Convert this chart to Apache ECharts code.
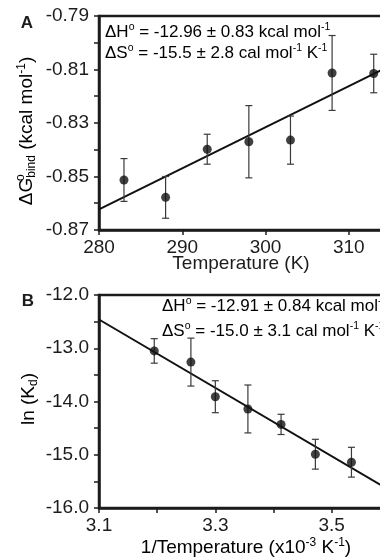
<!DOCTYPE html>
<html>
<head>
<meta charset="utf-8">
<script src="https://cdn.jsdelivr.net/npm/echarts@6/dist/echarts.min.js"></script>
<style>
html,body{margin:0;padding:0;background:#fff;overflow:hidden;width:380px;height:558px;}
#c{width:480px;height:558px;}
</style>
</head>
<body>
<div id="c"></div>
<script>
// Panel A: ΔG vs temperature
const tempA = [283, 288, 293, 298, 303, 308, 313];
const dgA   = [-0.8513, -0.8578, -0.8398, -0.8370, -0.8364, -0.8113, -0.8115];
const errA  = [0.0080, 0.0078, 0.0056, 0.0135, 0.0090, 0.0140, 0.0072];
const fitAx = [280, 320];
const fitAy = [-0.8623, -0.8009];
// Panel B: ln(Kd) vs 1/T
const invTB  = [3.195, 3.258, 3.300, 3.356, 3.413, 3.472, 3.534];
const lnKdB  = [-13.05, -13.26, -13.91, -14.14, -14.43, -14.99, -15.14];
const errB   = [0.23, 0.45, 0.30, 0.45, 0.19, 0.28, 0.28];
const fitBx  = [3.1, 3.7];
const fitBy  = [-12.46, -16.31];
// Tick ranges
const yTicksA = [-0.87, -0.79];
const xTicksA = [280, 320];
const yTicksB = [-16, -12];
const xTicksB = [3.1, 3.7];

const FONT = '"Liberation Sans", Arial, Helvetica, sans-serif';
const INK = '#1c1c1c';

function zip3(a,b,c){return a.map((v,i)=>[v,b[i],c[i]]);}
function zip2(a,b){return a.map((v,i)=>[v,b[i]]);}

function errItem(params, api){
  const x = api.value(0), y = api.value(1), e = api.value(2);
  const t = api.coord([x, y+e]), b = api.coord([x, y-e]);
  const hw = 3.5;
  const st = {stroke:'#3a3a3a', lineWidth:1.2};
  return {type:'group', children:[
    {type:'line', shape:{x1:t[0],y1:t[1],x2:b[0],y2:b[1]}, style:st},
    {type:'line', shape:{x1:t[0]-hw,y1:t[1],x2:t[0]+hw,y2:t[1]}, style:st},
    {type:'line', shape:{x1:b[0]-hw,y1:b[1],x2:b[0]+hw,y2:b[1]}, style:st}
  ]};
}

const axisCommon = {
  axisLine:{show:true, onZero:false, lineStyle:{color:INK, width:2.5}},
  axisTick:{show:true, inside:false, length:5, lineStyle:{color:INK, width:1.5}},
  splitLine:{show:false},
  axisLabel:{color:INK, fontSize:19, fontFamily:FONT, margin:8}
};

const richAnn = {
  n:{fontSize:17, fontFamily:FONT, color:INK, lineHeight:21},
  s:{fontSize:10.5, fontFamily:FONT, color:INK, lineHeight:21, verticalAlign:'top', padding:[0,0,7,0]}
};

const option = {
  animation:false,
  backgroundColor:'#fff',
  grid:[
    {left:99, top:16, width:333, height:214, show:true, borderColor:INK, borderWidth:2.5, backgroundColor:'transparent'},
    {left:99, top:295, width:349, height:213, show:true, borderColor:INK, borderWidth:2.5, backgroundColor:'transparent'}
  ],
  xAxis:[
    Object.assign({}, axisCommon, {type:'value', gridIndex:0, min:xTicksA[0], max:xTicksA[1], interval:10,
      axisLabel:Object.assign({}, axisCommon.axisLabel, {formatter:v=> (v<315? String(v):'')})}),
    Object.assign({}, axisCommon, {type:'value', gridIndex:1, min:xTicksB[0], max:xTicksB[1], interval:0.1,
      axisLabel:Object.assign({}, axisCommon.axisLabel, {formatter:v=>{const k=Math.round(v*10); return (k%2===1 && k<36)? (k/10).toFixed(1):'';}})})
  ],
  yAxis:[
    Object.assign({}, axisCommon, {type:'value', gridIndex:0, min:yTicksA[0], max:yTicksA[1], interval:0.01,
      axisLabel:Object.assign({}, axisCommon.axisLabel, {margin:10, formatter:v=>{const k=Math.round(v*100); return (Math.abs(k)%2===1)? v.toFixed(2):'';}})}),
    Object.assign({}, axisCommon, {type:'value', gridIndex:1, min:yTicksB[0], max:yTicksB[1], interval:0.5,
      axisLabel:Object.assign({}, axisCommon.axisLabel, {margin:10, formatter:v=>{const k=Math.round(v*2); return (k%2===0)? v.toFixed(1):'';}})})
  ],
  series:[
    {type:'line', xAxisIndex:0, yAxisIndex:0, data:zip2(fitAx, fitAy), showSymbol:false, lineStyle:{color:'#111', width:2}, z:2},
    {type:'custom', xAxisIndex:0, yAxisIndex:0, data:zip3(tempA, dgA, errA), renderItem:errItem, z:3},
    {type:'scatter', xAxisIndex:0, yAxisIndex:0, data:zip2(tempA, dgA), symbol:'circle', symbolSize:9, itemStyle:{color:'#111'}, z:4},
    {type:'line', xAxisIndex:1, yAxisIndex:1, data:zip2(fitBx, fitBy), showSymbol:false, lineStyle:{color:'#111', width:2}, z:2},
    {type:'custom', xAxisIndex:1, yAxisIndex:1, data:zip3(invTB, lnKdB, errB), renderItem:errItem, z:3},
    {type:'scatter', xAxisIndex:1, yAxisIndex:1, data:zip2(invTB, lnKdB), symbol:'circle', symbolSize:9, itemStyle:{color:'#111'}, z:4}
  ],
  graphic:[
    {type:'text', x:27, y:23, style:{text:'A', font:'bold 17px '+FONT, fill:INK, align:'center', verticalAlign:'middle'}},
    {type:'text', x:28, y:301, style:{text:'B', font:'bold 17px '+FONT, fill:INK, align:'center', verticalAlign:'middle'}},
    // annotations A
    {type:'text', x:105, y:32, style:{text:'{n|ΔH}{s|o}{n| = -12.96 ± 0.83 kcal mol}{s|-1}', rich:richAnn, verticalAlign:'middle', align:'left'}},
    {type:'text', x:105, y:53, style:{text:'{n|ΔS}{s|o}{n| = -15.5 ± 2.8 cal mol}{s|-1}{n| K}{s|-1}', rich:richAnn, verticalAlign:'middle', align:'left'}},
    // annotations B
    {type:'text', x:162, y:306, style:{text:'{n|ΔH}{s|o}{n| = -12.91 ± 0.84 kcal mol}{s|-1}', rich:richAnn, verticalAlign:'middle', align:'left'}},
    {type:'text', x:162, y:331, style:{text:'{n|ΔS}{s|o}{n| = -15.0 ± 3.1 cal mol}{s|-1}{n| K}{s|-1}', rich:richAnn, verticalAlign:'middle', align:'left'}},
    // x titles
    {type:'text', x:241, y:264, style:{text:'Temperature (K)', font:'19px '+FONT, fill:INK, align:'center', verticalAlign:'middle'}},
    {type:'text', x:246, y:548, style:{text:'{n|1/Temperature (x10}{s|-3}{n| K}{s|-1}{n|)}', align:'center', verticalAlign:'middle',
      rich:{n:{fontSize:19, fontFamily:FONT, color:INK, lineHeight:22}, s:{fontSize:12, fontFamily:FONT, color:INK, lineHeight:22, verticalAlign:'top', padding:[0,0,8,0]}}}},
    // y titles
    {type:'text', x:27, y:131, rotation:Math.PI/2, style:{text:'{n|ΔG}{o|o}{b|bind}{n| (kcal mol}{s|-1}{n|)}', align:'center', verticalAlign:'middle',
      rich:{n:{fontSize:19, fontFamily:FONT, color:INK, lineHeight:24},
            o:{fontSize:12, fontFamily:FONT, color:INK, lineHeight:24, width:0, align:'left', padding:[0,0,12,0]},
            b:{fontSize:12, fontFamily:FONT, color:INK, lineHeight:24, padding:[10,0,0,0]},
            s:{fontSize:12, fontFamily:FONT, color:INK, lineHeight:24, padding:[0,0,10,0]}}}},
    {type:'text', x:29, y:399, rotation:Math.PI/2, style:{text:'{n|ln (K}{b|d}{n|)}', align:'center', verticalAlign:'middle',
      rich:{n:{fontSize:19, fontFamily:FONT, color:INK, lineHeight:24}, b:{fontSize:12, fontFamily:FONT, color:INK, lineHeight:24, padding:[10,0,0,0]}}}}
  ]
};
const chart = echarts.init(document.getElementById('c'), null, {renderer:'canvas'});
chart.setOption(option);
</script>
</body>
</html>
